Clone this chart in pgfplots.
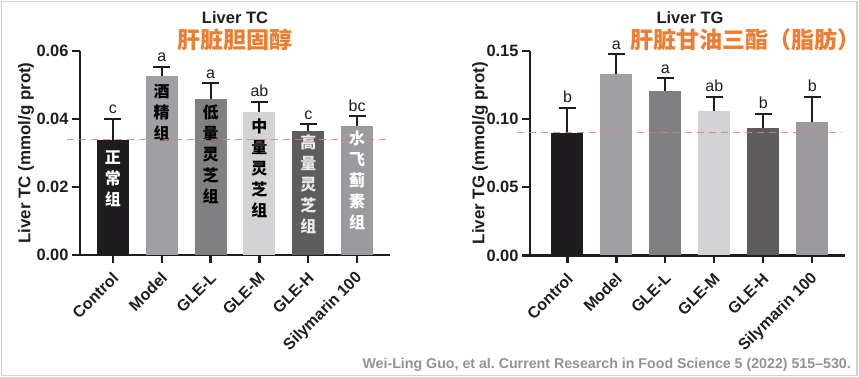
\documentclass[border=0pt]{standalone}
\usepackage{fontspec}
\setmainfont{Liberation Sans}
\newfontfamily\cjk{Noto Sans CJK SC}
\usepackage{pgfplots}
\pgfplotsset{compat=1.18}
\definecolor{cA}{RGB}{30,28,30}
\definecolor{cB}{RGB}{160,159,163}
\definecolor{cC}{RGB}{128,127,129}
\definecolor{cD}{RGB}{211,211,213}
\definecolor{cE}{RGB}{95,92,93}
\definecolor{cF}{RGB}{156,154,159}
\definecolor{orng}{RGB}{237,125,49}
\definecolor{dashc}{RGB}{222,128,122}
\definecolor{txt}{RGB}{30,30,30}
\pgfplotsset{
 barsax/.style={
  scale only axis, anchor=south west,
  axis x line=bottom, axis y line=left,
  axis line style={-, line width=2.2pt, txt},
  tick align=outside, major tick length=8pt,
  tick style={line width=2.2pt, txt},
  ybar, bar width=32pt, bar shift=0pt,
  xtick={0,...,5},
  xticklabels={Control,Model,GLE-L,GLE-M,GLE-H,Silymarin 100},
  xticklabel style={xshift=5pt, yshift=-10pt, rotate=45, anchor=east, text=txt, font=\bfseries\fontsize{16}{18}\selectfont},
  yticklabel style={/pgf/number format/fixed, /pgf/number format/fixed zerofill, /pgf/number format/precision=2, text=txt, font=\bfseries\fontsize{16.4}{18}\selectfont},
  /pgf/number format/assume math mode=true,
  scaled y ticks=false,
  ymin=0, clip=false,
  ylabel style={anchor=center, text=txt, font=\bfseries\fontsize{16.9}{18}\selectfont},
  error bars/y dir=plus, error bars/y explicit,
  error bars/error bar style={draw=txt, solid, line width=2pt},
  error bars/error mark options={rotate=90, mark size=8.5pt, draw=txt, solid, line width=2pt},
 },
}
\tikzset{
 lt/.style={anchor=base, yshift=5pt, text=txt, font=\fontsize{16}{18}\selectfont},
 bt/.style={anchor=north, inner sep=0pt, align=center, font=\cjk\bfseries\fontsize{16}{21}\selectfont},
}
\begin{document}
\begin{tikzpicture}
\path[use as bounding box] (0,0) rectangle (859pt,377pt);
\fill[white] (0,0) rectangle (859pt,377pt);
\draw[gray!35, line width=1.5pt] (1.5pt,1.5pt) rectangle (857pt,375.5pt);

% ---------- Left: Liver TC ----------
\begin{axis}[barsax, at={(80pt,122pt)}, width=310pt, height=204pt,
  xmin=-0.673, xmax=5.673, ymax=0.06, ytick={0,0.02,0.04,0.06},
  ylabel={Liver TC (mmol/g prot)},
  ylabel style={at={(axis description cs:-0.174,0.5)}}]
\addplot[fill=cA, draw=none] coordinates {(0,0.0337) +- (0,0.0063)};
\addplot[fill=cB, draw=none] coordinates {(1,0.0526) +- (0,0.0028)};
\addplot[fill=cC, draw=none] coordinates {(2,0.0459) +- (0,0.0046)};
\addplot[fill=cD, draw=none] coordinates {(3,0.0421) +- (0,0.0030)};
\addplot[fill=cE, draw=none] coordinates {(4,0.0366) +- (0,0.0019)};
\addplot[fill=cF, draw=none] coordinates {(5,0.0379) +- (0,0.0029)};
\node[bt, text=white, yshift=-10pt] at (axis cs:0,0.0337) {正\\常\\组};
\node[bt, text=black, yshift=-8pt] at (axis cs:1,0.0526) {酒\\精\\组};
\node[bt, text=black, yshift=-6pt] at (axis cs:2,0.0459) {低\\量\\灵\\芝\\组};
\node[bt, text=black, yshift=-7pt] at (axis cs:3,0.0421) {中\\量\\灵\\芝\\组};
\node[bt, text=white!92!black, yshift=-4pt] at (axis cs:4,0.0366) {高\\量\\灵\\芝\\组};
\node[bt, text=white, yshift=-4pt] at (axis cs:5,0.0379) {水\\飞\\蓟\\素\\组};
\addplot[sharp plot, forget plot, draw=dashc, line width=1.3pt, dash pattern=on 7pt off 5pt, opacity=0.85] coordinates {(-0.94,0.034) (5.673,0.034)};
\node[lt] at (axis cs:0,0.0400) {c};
\node[lt] at (axis cs:1,0.0554) {a};
\node[lt] at (axis cs:2,0.0505) {a};
\node[lt] at (axis cs:3,0.0451) {ab};
\node[lt] at (axis cs:4,0.0385) {c};
\node[lt] at (axis cs:5,0.0408) {bc};
\end{axis}

% ---------- Right: Liver TG ----------
\begin{axis}[barsax, at={(530pt,121.5pt)}, width=315pt, height=204.5pt,
  xmin=-0.765, xmax=5.67, ymax=0.15, ytick={0,0.05,0.1,0.15},
  ylabel={Liver TG (mmol/g prot)},
  ylabel style={at={(axis description cs:-0.159,0.5)}}]
\addplot[fill=cA, draw=none] coordinates {(0,0.0896) +- (0,0.0188)};
\addplot[fill=cB, draw=none] coordinates {(1,0.1333) +- (0,0.0142)};
\addplot[fill=cC, draw=none] coordinates {(2,0.1206) +- (0,0.0093)};
\addplot[fill=cD, draw=none] coordinates {(3,0.1057) +- (0,0.0107)};
\addplot[fill=cE, draw=none] coordinates {(4,0.0937) +- (0,0.0102)};
\addplot[fill=cF, draw=none] coordinates {(5,0.0979) +- (0,0.0185)};
\addplot[sharp plot, forget plot, draw=dashc, line width=1.3pt, dash pattern=on 7pt off 5pt, opacity=0.85] coordinates {(-1.03,0.0903) (5.61,0.0903)};
\node[lt] at (axis cs:0,0.1084) {b};
\node[lt] at (axis cs:1,0.1475) {a};
\node[lt] at (axis cs:2,0.1299) {a};
\node[lt] at (axis cs:3,0.1164) {ab};
\node[lt] at (axis cs:4,0.1039) {b};
\node[lt] at (axis cs:5,0.1164) {b};
\end{axis}

% ---------- Titles ----------
\node[text=txt, font=\bfseries\fontsize{16.5}{18}\selectfont] at (235pt,359pt) {Liver TC};
\node[text=orng, font=\cjk\bfseries\fontsize{23}{25}\selectfont] at (235pt,337pt) {肝脏胆固醇};
\node[text=txt, font=\bfseries\fontsize{16.5}{18}\selectfont] at (690pt,359pt) {Liver TG};
\node[text=orng, anchor=west, inner sep=0pt, font=\cjk\bfseries\fontsize{23}{25}\selectfont] at (630pt,337pt) {肝脏甘油三酯（脂肪）};

% ---------- Citation ----------
\node[anchor=east, text=gray!85, inner sep=0pt, font=\bfseries\fontsize{14.2}{16}\selectfont] at (851pt,12pt) {Wei-Ling Guo, et al.\ Current Research in Food Science 5 (2022) 515--530.};
\end{tikzpicture}
\end{document}
